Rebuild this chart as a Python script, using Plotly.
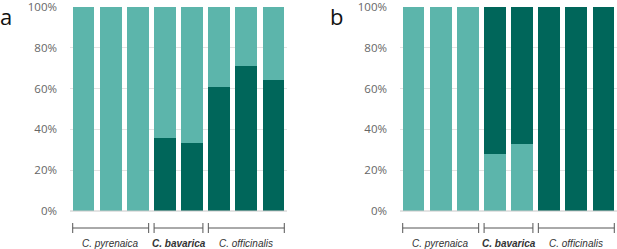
import plotly.graph_objects as go

samples = ["P1", "P2", "P3", "B1", "B2", "O1", "O2", "O3"]
a_dark = [0, 0, 0, 36, 33.5, 61, 71, 64]
a_light = [100 - v for v in a_dark]
b_light = [100, 100, 100, 28, 33, 0, 0, 0]
b_dark = [100 - v for v in b_light]
groups = ["C. pyrenaica", "C. bavarica", "C. officinalis"]
group_span = [(0, 2), (3, 4), (5, 7)]
yticks = [0, 20, 40, 60, 80, 100]

LIGHT = "#5cb5ab"
DARK = "#00665a"
W, H = 617, 249

fig = go.Figure()
fig.add_bar(x=samples, y=a_dark, marker_color=DARK, xaxis="x", yaxis="y")
fig.add_bar(x=samples, y=a_light, marker_color=LIGHT, xaxis="x", yaxis="y")
fig.add_bar(x=samples, y=b_light, marker_color=LIGHT, xaxis="x2", yaxis="y2")
fig.add_bar(x=samples, y=b_dark, marker_color=DARK, xaxis="x2", yaxis="y2")
fig.update_traces(marker_line_width=0, showlegend=False, hoverinfo="skip")

ydom = [(H - 211) / H, (H - 7) / H]
xa = dict(range=[-0.5, 7.5], showticklabels=False, showgrid=False, zeroline=False, showline=False, ticks="", fixedrange=True)
ya = dict(range=[0, 100], domain=ydom, tickvals=yticks, ticktext=[f"{v}%" for v in yticks],
          showgrid=True, gridcolor="#e3e3e3", gridwidth=1, zeroline=False, showline=False, ticks="",
          tickfont=dict(family="Open Sans", size=11.5, color="#666666"), ticklabelstandoff=12,
          ticklabeloverflow="allow", automargin=False)

fig.update_layout(
    width=W, height=H, margin=dict(l=0, r=0, t=0, b=0),
    paper_bgcolor="white", plot_bgcolor="white", barmode="stack", bargap=0.2,
    xaxis=dict(xa, domain=[70 / W, 287 / W]),
    xaxis2=dict(xa, domain=[400 / W, 617 / W]),
    yaxis=dict(ya, anchor="x"),
    yaxis2=dict(ya, anchor="x2"),
)

shapes = []
annotations = []
yb = (H - 228) / H
tick_h = 5 / H
for xr in ["x", "x2"]:
    shapes.append(dict(type="line", xref=xr + " domain", yref="paper", x0=0, x1=1, y0=ydom[0], y1=ydom[0],
                       line=dict(color="#c8c8c8", width=1)))
    for (s, e), g in zip(group_span, groups):
        x0, x1 = s - 0.4, e + 0.4
        shapes.append(dict(type="line", xref=xr, yref="paper", x0=x0, x1=x1, y0=yb, y1=yb, line=dict(color="#555555", width=1)))
        for xx in (x0, x1):
            shapes.append(dict(type="line", xref=xr, yref="paper", x0=xx, x1=xx, y0=yb - tick_h, y1=yb + tick_h,
                               line=dict(color="#555555", width=1)))
        txt = f"<b><i>{g}</i></b>" if g == "C. bavarica" else f"<i>{g}</i>"
        annotations.append(dict(text=txt, xref=xr, yref="paper", x=(s + e) / 2, y=(H - 243) / H,
                                yanchor="middle", showarrow=False, font=dict(family="Arial", size=10, color="#333333")))

for letter, lx in (("a", -1), ("b", 329)):
    annotations.append(dict(text=letter, xref="paper", yref="paper", x=lx / W, y=1.0, xanchor="left",
                            yanchor="top", showarrow=False, borderpad=0,
                            font=dict(family="Open Sans", size=22, color="#111111")))
fig.update_layout(shapes=shapes, annotations=annotations)

fig.write_html("out.html", config={"displayModeBar": False},
               post_script="document.body.style.margin='0px';document.body.style.padding='0px';")
